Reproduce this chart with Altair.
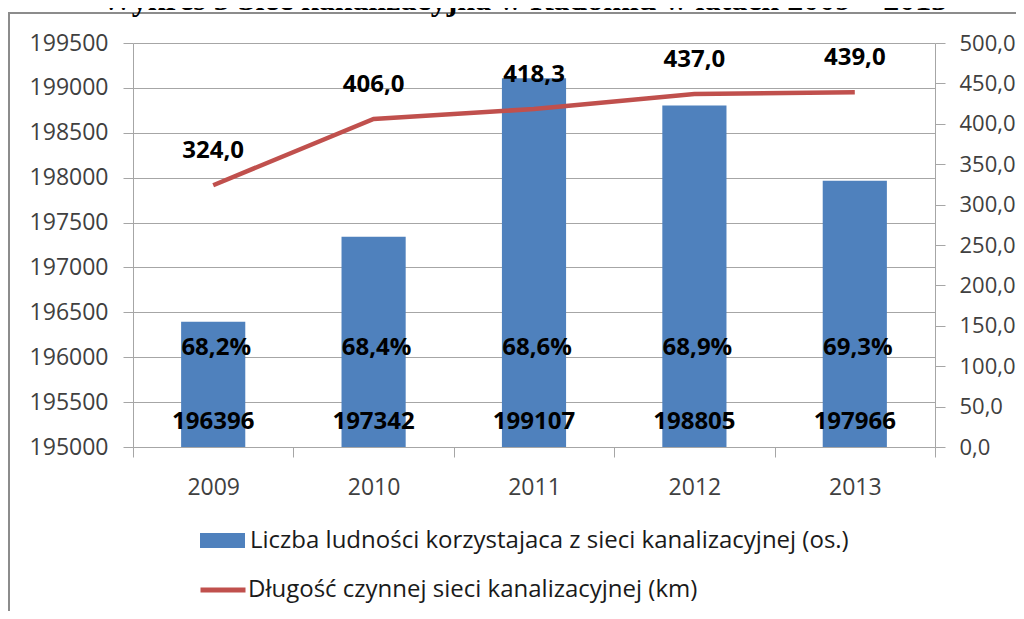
import altair as alt
import pandas as pd

years = ["2009", "2010", "2011", "2012", "2013"]
population = [196396, 197342, 199107, 198805, 197966]
length_km = [324.0, 406.0, 418.3, 437.0, 439.0]
share_pct = [68.2, 68.4, 68.6, 68.9, 69.3]

left_ticks = [195000, 195500, 196000, 196500, 197000, 197500, 198000, 198500, 199000, 199500]
right_ticks = [0, 50, 100, 150, 200, 250, 300, 350, 400, 450, 500]

bar_name = "Liczba ludności korzystajaca z sieci kanalizacyjnej (os.)"
line_name = "Długość czynnej sieci kanalizacyjnej (km)"
title_text = "Wykres 5 Sieć kanalizacyjna w Radomiu w latach 2009 – 2013"

BLUE = "#4F81BD"
RED = "#C0504D"
GRID = "#A6A6A6"
FONT = "Open Sans"
AXFS = 23
LBFS = 24

df = pd.DataFrame({
    "year": years,
    "pop": population,
    "km": length_km,
    "pct": share_pct,
})
df["pct_label"] = [f"{v:.1f}".replace(".", ",") + "%" for v in share_pct]
df["km_label"] = [f"{v:.1f}".replace(".", ",") for v in length_km]
df["bar_series"] = bar_name
df["line_series"] = line_name

x_axis = alt.Axis(labelFont=FONT, labelFontSize=AXFS, labelColor="#404040",
                  labelAngle=0, tickBand="extent", tickColor=GRID, tickSize=10,
                  domainColor=GRID, labelPadding=19, grid=False)
xenc = alt.X("year:N", sort=years, title=None,
             scale=alt.Scale(paddingInner=0, paddingOuter=0), axis=x_axis)

left_scale = alt.Scale(domain=[195000, 199500], nice=False, zero=False)
right_scale = alt.Scale(domain=[0, 500], nice=False)

left_axis = alt.Axis(values=left_ticks, format="d", labelFont=FONT, labelFontSize=AXFS,
                     labelColor="#404040", tickColor=GRID, tickSize=10, domainColor=GRID,
                     grid=True, gridColor=GRID, labelPadding=15, orient="left")
right_axis = alt.Axis(values=right_ticks, orient="right", labelFont=FONT, labelFontSize=22,
                      labelColor="#404040", tickColor=GRID, tickSize=10, domainColor=GRID,
                      grid=False, labelPadding=14, labelLimit=200,
                      labelExpr="replace(format(datum.value, '.1f'), '.', ',')")

base = alt.Chart(df)

bars = base.mark_bar(width=alt.RelativeBandSize(0.4)).encode(
    x=xenc,
    y=alt.Y("pop:Q", scale=left_scale, title=None, axis=left_axis),
    y2=alt.datum(195000),
    color=alt.Color("bar_series:N", scale=alt.Scale(domain=[bar_name], range=[BLUE]),
                    legend=alt.Legend(title=None, orient="none", legendX=67, legendY=475,
                                      padding=0, symbolType="M-1,-0.333H1V0.333H-1Z",
                                      symbolSize=2025, symbolStrokeWidth=0, labelFont=FONT,
                                      labelFontSize=LBFS, labelColor="#1a1a1a", labelLimit=900,
                                      labelOffset=5)),
)

pct_text = base.mark_text(font=FONT, fontSize=LBFS, fontWeight="bold", color="black",
                          baseline="middle", dx=3).encode(
    x=xenc,
    y=alt.YDatum(196100, scale=left_scale, title=None, axis=left_axis),
    text="pct_label:N",
)

pop_text = base.mark_text(font=FONT, fontSize=LBFS, fontWeight="bold", color="black",
                          baseline="middle").encode(
    x=xenc,
    y=alt.YDatum(195280, scale=left_scale, title=None, axis=left_axis),
    text=alt.Text("pop:Q", format="d"),
)

deco = alt.Chart(pd.DataFrame({"t": [title_text]}))
border = deco.mark_rect(fill=None, stroke="#8C8C8C", strokeWidth=2).encode(
    x=alt.value(-124), x2=alt.value(900), y=alt.value(-30), y2=alt.value(600))
title_mark = deco.mark_text(font="Liberation Serif", fontSize=32, fontWeight="bold",
                            color="black", align="center", baseline="alphabetic").encode(
    x=alt.value(391), y=alt.value(-33), text="t:N")

left = alt.layer(bars, pct_text, pop_text, border, title_mark)

line = base.mark_line(strokeWidth=4.5).encode(
    x=xenc,
    y=alt.Y("km:Q", scale=right_scale, title=None, axis=right_axis),
    stroke=alt.Stroke("line_series:N", scale=alt.Scale(domain=[line_name], range=[RED]),
                      legend=alt.Legend(title=None, orient="none", legendX=65, legendY=522,
                                        padding=0, symbolType="stroke", symbolSize=2025,
                                        symbolStrokeWidth=5, labelFont=FONT, labelFontSize=LBFS,
                                        labelColor="#1a1a1a", labelLimit=900, labelOffset=0)),
)

line_text = base.mark_text(font=FONT, fontSize=LBFS, fontWeight="bold", color="black",
                           baseline="middle", dy=-34).encode(
    x=xenc,
    y=alt.Y("km:Q", scale=right_scale, title=None, axis=right_axis),
    text="km_label:N",
)

right = alt.layer(line, line_text)

chart = alt.layer(left, right).resolve_scale(
    y="independent", color="independent", stroke="independent"
).properties(
    width=802, height=404,
    autosize=alt.AutoSizeParams(type="none"),
    padding={"left": 125, "top": 35, "right": 81, "bottom": 164},
).configure_view(stroke=None)

chart.save("out.html", embed_options={"renderer": "svg", "actions": False})
